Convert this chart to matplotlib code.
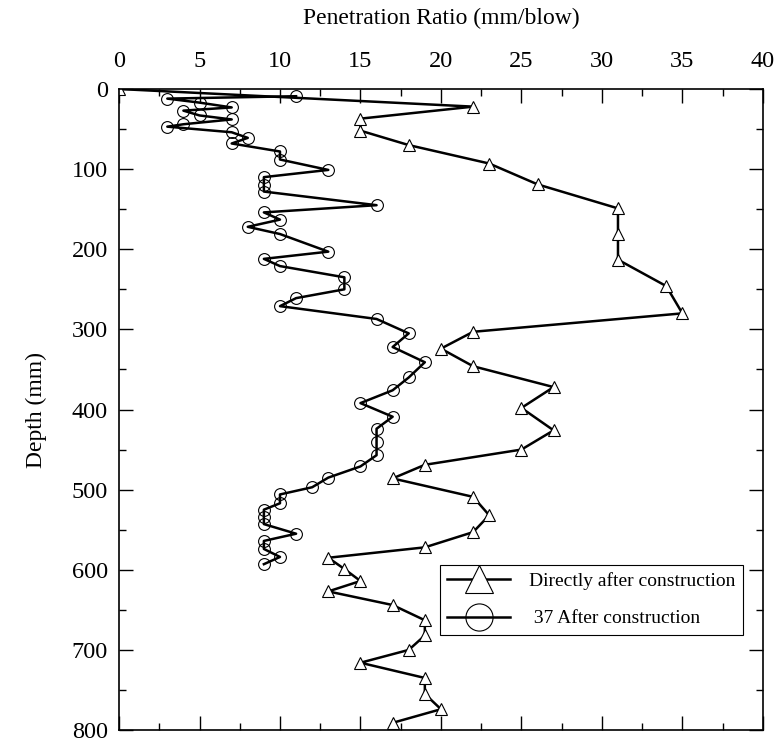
import matplotlib
matplotlib.use("Agg")
import matplotlib.pyplot as plt
from matplotlib.ticker import MultipleLocator

# Directly after construction (triangles)
direct_ratio = [0, 22, 15, 15, 18, 23, 26, 31, 31, 31, 34, 35, 22, 20, 22, 27, 25, 27, 25, 19,
                17, 22, 23, 22, 19, 13, 14, 15, 13, 17, 19, 19, 18, 15, 19, 19, 20, 17]
direct_depth = [0, 22, 37, 52, 70, 93, 119, 149, 181, 213, 246, 280, 303, 324, 346, 372, 398, 426, 450, 469,
                486, 509, 532, 553, 572, 585, 599, 614, 627, 644, 663, 682, 700, 716, 735, 755, 774, 791]

# 37 after construction (circles)
after_ratio = [11, 3, 5, 7, 4, 5, 7, 4, 3, 7, 8, 7, 10, 10, 13, 9, 9, 9, 16, 9,
               10, 8, 10, 13, 9, 10, 14, 14, 11, 10, 16, 18, 17, 19, 18, 17, 15, 17, 16, 16,
               16, 15, 13, 12, 10, 10, 9, 9, 9, 11, 9, 9, 10, 9]
after_depth = [9, 12, 17, 23, 27, 33, 38, 44, 47, 54, 61, 68, 78, 88, 101, 110, 120, 128, 145, 154,
               163, 172, 181, 203, 212, 221, 235, 250, 261, 271, 287, 305, 322, 341, 360, 376, 392, 409, 424, 441,
               457, 471, 485, 497, 506, 517, 525, 534, 543, 555, 564, 574, 584, 593]

plt.rcParams["font.family"] = ["Liberation Serif", "DejaVu Serif"]

fig = plt.figure(figsize=(7.8, 7.46), dpi=100)
ax = fig.add_axes([0.1526, 0.0214, 0.8254, 0.8593])

ax.plot(direct_ratio, direct_depth, color="black", lw=1.8, marker="^", ms=8.5,
        mfc="white", mec="black", mew=0.8, label="Directly after construction")
ax.plot(after_ratio, after_depth, color="black", lw=1.8, marker="o", ms=8.5,
        mfc="none", mec="black", mew=0.8, label=" 37 After construction")

ax.set_xlim(0, 40)
ax.set_ylim(800, 0)
ax.xaxis.set_major_locator(MultipleLocator(5))
ax.xaxis.set_minor_locator(MultipleLocator(2.5))
ax.yaxis.set_major_locator(MultipleLocator(100))
ax.yaxis.set_minor_locator(MultipleLocator(50))
ax.xaxis.tick_top()
ax.xaxis.set_label_position("top")
ax.tick_params(which="both", direction="in", top=True, bottom=True, left=True, right=True,
               labeltop=True, labelbottom=False, labelleft=True, labelright=False)
ax.tick_params(which="major", length=10, width=1, labelsize=17.5)
ax.tick_params(which="minor", length=5, width=1)
ax.tick_params(axis="x", which="major", pad=12)
ax.tick_params(axis="y", which="major", pad=8)
for s in ax.spines.values():
    s.set_linewidth(1.2)

ax.set_xlabel("Penetration Ratio (mm/blow)", fontsize=17, labelpad=20)
ax.set_ylabel("Depth (mm)", fontsize=17, labelpad=18)

leg = ax.legend(loc="upper left", bbox_to_anchor=(0.498, 0.258), borderaxespad=0,
                fontsize=14, markerscale=2.3, handlelength=3.2, fancybox=False,
                edgecolor="black", framealpha=1, labelspacing=1.0, handletextpad=1.0)
leg.get_frame().set_linewidth(0.8)

fig.savefig("out.png", dpi=100)
